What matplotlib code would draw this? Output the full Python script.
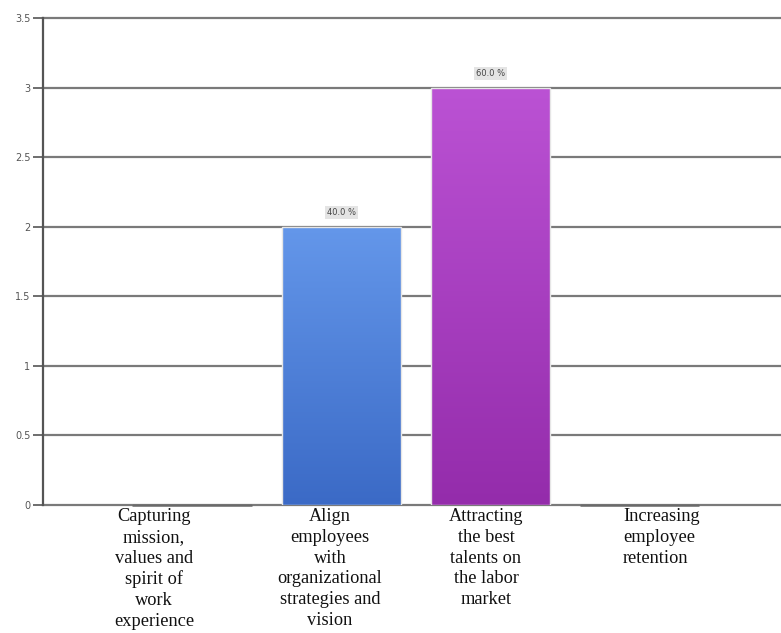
import numpy as np
import matplotlib.pyplot as plt
from matplotlib.colors import LinearSegmentedColormap

# survey answers: number of respondents per goal
categories = [
    "Capturing\nmission,\nvalues and\nspirit of\nwork\nexperience",
    "Align\nemployees\nwith\norganizational\nstrategies and\nvision",
    "Attracting\nthe best\ntalents on\nthe labor\nmarket",
    "Increasing\nemployee\nretention",
]
counts = [0, 2, 3, 0]
yticks = [0, 0.5, 1, 1.5, 2, 2.5, 3, 3.5]
ytick_labels = ["0", "0.5", "1", "1.5", "2", "2.5", "3", "3.5"]

# top / bottom colour of each bar's gradient
bar_top = ["#6d9cec", "#6497ea", "#bb52d4", "#bb52d4"]
bar_bottom = ["#3b6ac6", "#3b6ac6", "#942cab", "#942cab"]

W, H = 781, 633
fig = plt.figure(figsize=(W / 100, H / 100), dpi=100)
ax = fig.add_axes([43 / W, 128 / H, (W - 43) / W, 487 / H])

x = np.arange(len(counts))
total = sum(counts)
bars = ax.bar(x, counts, width=0.8, color="none", edgecolor="#e6e6e6",
              linewidth=1.0, zorder=3)

for i, b in enumerate(bars):
    h = b.get_height()
    if h <= 0:
        # empty answer: a slightly darker stub on the base line
        ax.plot([b.get_x(), b.get_x() + b.get_width()], [0, 0],
                color="#6a6a6a", lw=1.8, zorder=4, solid_capstyle="butt",
                clip_on=False)
        continue
    cmap = LinearSegmentedColormap.from_list("g", [bar_bottom[i], bar_top[i]])
    grad = np.linspace(0, 1, 256).reshape(-1, 1)
    im = ax.imshow(grad, cmap=cmap, origin="lower", aspect="auto",
                   extent=[b.get_x(), b.get_x() + b.get_width(), 0, h],
                   zorder=2.5)
    im.set_clip_path(b)
    pct = 100 * h / total
    ax.text(b.get_x() + b.get_width() / 2, h + 0.1, f"{pct:.1f} %",
            ha="center", va="center", fontsize=6, color="#444444",
            bbox=dict(boxstyle="square,pad=0.25", fc="#e4e4e4", ec="none"),
            zorder=5)

ax.set_xlim(-1.0, 3.95)
ax.set_ylim(0, 3.5)
ax.set_yticks(yticks)
ax.set_yticklabels(ytick_labels, fontsize=7, color="#555555")
ax.set_xticks([])
ax.yaxis.grid(True, color="#7a7a7a", lw=1.6, zorder=1)
for gl in ax.get_ygridlines():
    gl.set_clip_on(False)
ax.set_axisbelow(True)
ax.tick_params(axis="y", length=7, width=1.2, color="#555555", pad=2)
for side in ["top", "right", "bottom"]:
    ax.spines[side].set_visible(False)
ax.spines["left"].set_color("#555555")
ax.spines["left"].set_linewidth(1.6)

# category captions under the axis
label_px = [154, 330, 486, 623]
label_ha = ["center", "center", "center", "left"]
for lab, px, ha in zip(categories, label_px, label_ha):
    fig.text(px / W, 1 - 508 / H, lab, ha=ha, va="top",
             family="Liberation Serif", fontsize=13.2, linespacing=1.29,
             multialignment=ha, color="#111111")

fig.savefig("out.png", dpi=100)
